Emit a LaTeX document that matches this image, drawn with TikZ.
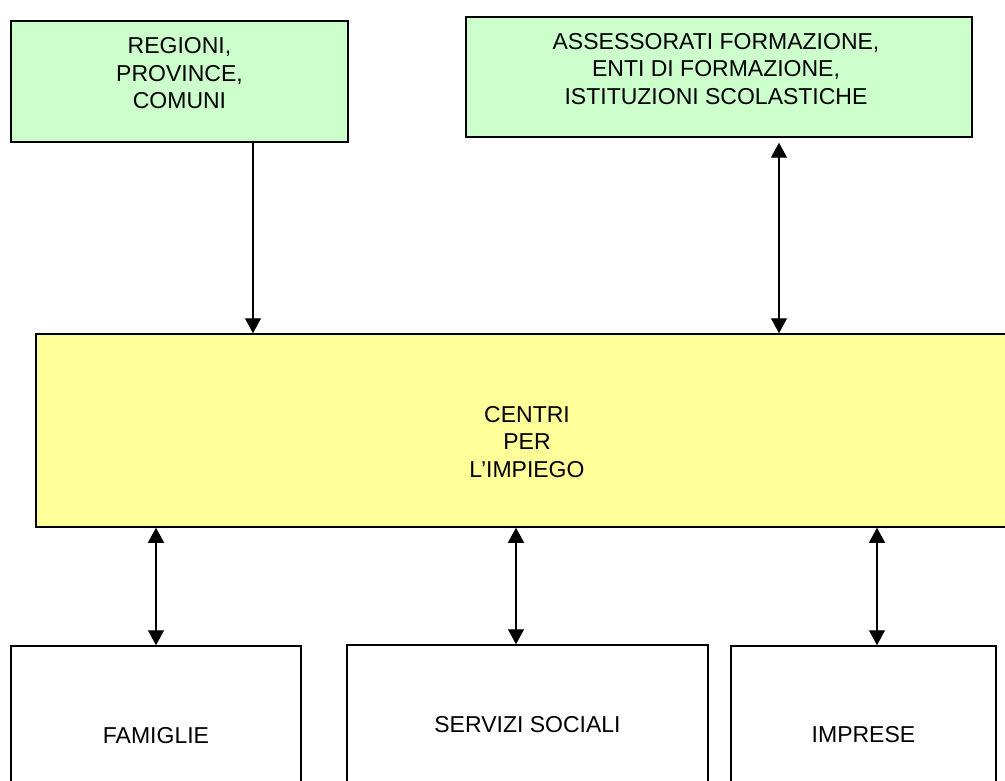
\documentclass[tikz,border=0pt]{standalone}
\usepackage{fontspec}
\setmainfont{Liberation Sans}
\usetikzlibrary{arrows.meta}
\definecolor{paleGreen}{HTML}{CCFFCC}
\definecolor{paleYellow}{HTML}{FFFF99}
\begin{document}
\begin{tikzpicture}[x=1pt,y=-1pt,
  box/.style={draw=black, line width=1.5pt, inner sep=0pt, rectangle},
  greenbox/.style={box, fill=paleGreen},
  yellowbox/.style={box, fill=paleYellow},
  whitebox/.style={box, fill=white, font=\fontsize{23}{27.5}\selectfont},
  lbl/.style={font=\fontsize{23}{27.5}\selectfont, align=center, inner sep=0pt},
  head/.style={Triangle[width=16pt,length=15pt]},
  oneway/.style={line width=1.3pt, -{Triangle[width=16pt,length=15pt]}},
  twoway/.style={line width=1.3pt, {Triangle[width=16pt,length=15pt]}-{Triangle[width=16pt,length=15pt]}}
]
\useasboundingbox (0,0) rectangle (1005,781);

% upper boxes
\node[greenbox, minimum width=337pt, minimum height=121pt] (reg) at (179.5,81.5) {};
\node[lbl] (regt) at (179.5,73.5) {REGIONI,\\PROVINCE,\\COMUNI};
\node[greenbox, minimum width=506pt, minimum height=120pt] (ass) at (719,77) {};
\node[lbl] (asst) at (716,68.75) {ASSESSORATI FORMAZIONE,\\ENTI DI FORMAZIONE,\\ISTITUZIONI SCOLASTICHE};

% central box
\node[yellowbox, minimum width=982pt, minimum height=193pt] (cpi) at (527,430.5) {};
\node[lbl] (cpit) at (527,442) {CENTRI\\PER\\L’IMPIEGO};

% lower boxes
\node[whitebox, minimum width=290pt, minimum height=180pt] (fam) at (156,736) {FAMIGLIE};
\node[whitebox, minimum width=361pt, minimum height=160pt] (ser) at (527.5,725) {SERVIZI SOCIALI};
\node[whitebox, minimum width=265pt, minimum height=178pt] (imp) at (863.5,735) {IMPRESE};

% connector columns
\coordinate (c1) at (253,0);
\coordinate (c2) at (779,0);
\coordinate (c3) at (156,0);
\coordinate (c4) at (516,0);
\coordinate (c5) at (877,0);

\draw[oneway] (reg.south -| c1) -- (cpi.north -| c1);
\draw[twoway, shorten <=5pt] (ass.south -| c2) -- (cpi.north -| c2);
\draw[twoway] (cpi.south -| c3) -- (fam.north -| c3);
\draw[twoway] (cpi.south -| c4) -- (ser.north -| c4);
\draw[twoway] (cpi.south -| c5) -- (imp.north -| c5);
\end{tikzpicture}
\end{document}
